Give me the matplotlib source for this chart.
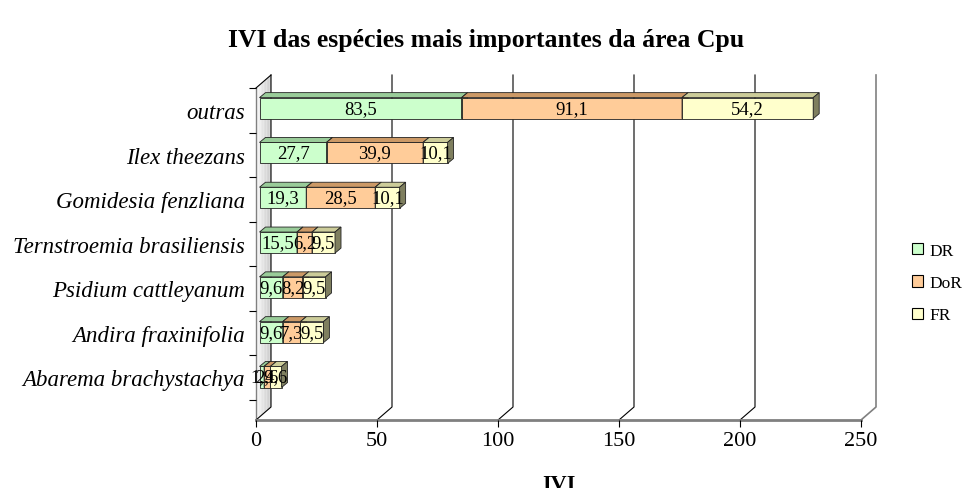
import matplotlib
matplotlib.use("Agg")
import matplotlib.pyplot as plt
import matplotlib.transforms as mtransforms
from matplotlib.patches import Polygon, Patch
import numpy as np

# ---- data ----
species = ["outras", "Ilex theezans", "Gomidesia fenzliana",
           "Ternstroemia brasiliensis", "Psidium cattleyanum",
           "Andira fraxinifolia", "Abarema brachystachya"]
dr = [83.5, 27.7, 19.3, 15.5, 9.6, 9.6, 1.9]
dor = [91.1, 39.9, 28.5, 6.2, 8.2, 7.3, 2.6]
fr = [54.2, 10.1, 10.1, 9.5, 9.5, 9.5, 4.6]
series_names = ["DR", "DoR", "FR"]
xticks = [0, 50, 100, 150, 200, 250]

# ---- styling ----
front_colors = ["#CCFFCC", "#FFCC99", "#FFFFCC"]
top_colors = ["#99CC99", "#CC9966", "#CCCC99"]
side_colors = ["#669966", "#996633", "#7F7F5F"]
EDGE = "#222222"

plt.rcParams["font.family"] = ["Liberation Serif", "DejaVu Serif"]

W_PX, H_PX = 973, 489
fig = plt.figure(figsize=(W_PX / 100, H_PX / 100), dpi=100)

# front plane of the 3-D plot box (pixel geometry)
left_px, right_px, top_px, floor_px = 256, 861, 89, 421
ax = fig.add_axes([left_px / W_PX, 1 - floor_px / H_PX,
                   (right_px - left_px) / W_PX, (floor_px - top_px) / H_PX])
ax.set_xlim(0, 250)
ax.set_ylim(6.96, -0.45)
ax.patch.set_visible(False)
for s in ax.spines.values():
    s.set_visible(False)

WALL_D = np.array([15.0, 13.0])    # depth of the walls in pixels
BAR_D = np.array([6.0, 5.0])       # depth of each bar in pixels
BAR_SHIFT = np.array([3.5, 0.0])   # bars sit slightly behind the front plane
BAR_H = 0.47

ident = mtransforms.IdentityTransform()
to_px = ax.transData.transform


def poly(pts, fc, ec=EDGE, lw=0.6, z=2):
    ax.add_patch(Polygon(np.asarray(pts), closed=True, facecolor=fc,
                         edgecolor=ec, linewidth=lw, transform=ident,
                         clip_on=False, zorder=z))


def line(pts, color="black", lw=0.8, z=1):
    pts = np.asarray(pts)
    ax.add_line(plt.Line2D(pts[:, 0], pts[:, 1], color=color, linewidth=lw,
                           transform=ident, clip_on=False, zorder=z))


y0, y1 = ax.get_ylim()

# left wall with a soft grey gradient
fb = to_px((0, y0))
ft = to_px((0, y1))
n_strips = 10
shades = np.linspace(0.97, 0.80, n_strips)
for k in range(n_strips):
    a, b = k / n_strips, (k + 1) / n_strips
    pts = [fb + WALL_D * a, fb + WALL_D * b, ft + WALL_D * b, ft + WALL_D * a]
    poly(pts, fc=(shades[k],) * 3, ec="none", lw=0, z=0.5)
line([fb, ft], color="#808080", lw=1.0, z=1)
line([ft, ft + WALL_D], color="black", lw=0.8, z=1)

# floor gridlines running back, then up the back wall
for t in xticks:
    f = to_px((t, y0))
    back_b = f + WALL_D
    back_t = to_px((t, y1)) + WALL_D
    col = "#808080" if t == xticks[-1] else "black"
    lw = 1.2 if t == xticks[-1] else 0.8
    line([f, back_b, back_t], color=col, lw=lw, z=1)

# front edge of the floor
line([to_px((0, y0)), to_px((250, y0))], color="#808080", lw=2.0, z=1.5)

# stacked 3-D bars
values = np.array([dr, dor, fr])
for i in range(len(species)):
    start = 0.0
    for j in range(3):
        v = values[j, i]
        end = start + v
        bl = to_px((start, i + BAR_H / 2)) + BAR_SHIFT
        br = to_px((end, i + BAR_H / 2)) + BAR_SHIFT
        tr = to_px((end, i - BAR_H / 2)) + BAR_SHIFT
        tl = to_px((start, i - BAR_H / 2)) + BAR_SHIFT
        z = 3 + 0.01 * i + 0.001 * j
        poly([bl, br, tr, tl], front_colors[j], z=z)
        poly([tl, tr, tr + BAR_D, tl + BAR_D], top_colors[j], z=z)
        poly([br, br + BAR_D, tr + BAR_D, tr], side_colors[j], z=z)
        cx, cy = to_px(((start + end) / 2, i)) + BAR_SHIFT
        ax.text(cx, cy, f"{v:.1f}".replace(".", ","), transform=ident,
                ha="center", va="center", fontsize=13.5, color="black",
                zorder=10, clip_on=False)
        start = end

# axes ticks and labels
ax.set_xticks(xticks)
ax.set_xticklabels([str(t) for t in xticks], fontsize=16)
ax.tick_params(axis="x", direction="out", length=5, width=0.8, pad=3,
               color="black")
ax.set_yticks(range(len(species)))
ax.set_yticklabels(species, fontsize=16.5, style="italic")
ax.tick_params(axis="y", which="major", length=0, pad=8)
ax.set_yticks(np.arange(-0.5, len(species), 1.0), minor=True)
ax.tick_params(axis="y", which="minor", direction="out", length=5,
               width=0.8, color="black")

ax.set_xlabel("IVI", fontsize=16, fontweight="bold", labelpad=17)

fig.text(0.5, 1 - 40 / H_PX, "IVI das espécies mais importantes da área Cpu",
         ha="center", va="center", fontsize=18.5, fontweight="bold")

handles = [Patch(facecolor=c, edgecolor="black", linewidth=0.8)
           for c in front_colors]
fig.legend(handles, series_names, loc="center left",
           bbox_to_anchor=(912 / W_PX, 1 - 284 / H_PX), frameon=False,
           borderpad=0, borderaxespad=0,
           fontsize=12.5, handlelength=0.65, handleheight=0.65,
           handletextpad=0.35, labelspacing=0.95)

fig.savefig("out.png", dpi=100)
